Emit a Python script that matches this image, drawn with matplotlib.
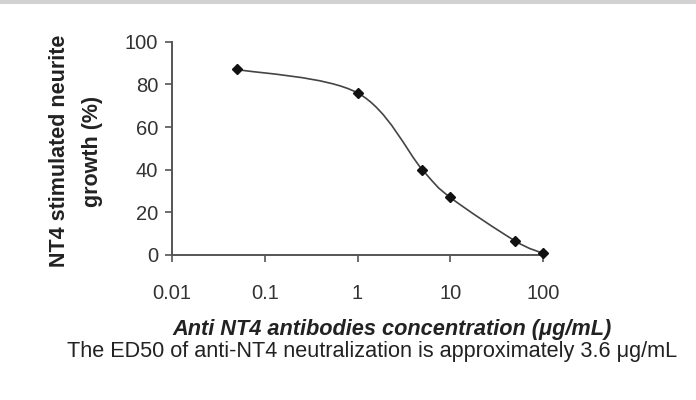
import matplotlib
matplotlib.use("Agg")
import matplotlib.pyplot as plt
from matplotlib.path import Path
from matplotlib.patches import PathPatch, Rectangle
import numpy as np

plt.rcParams['font.family'] = ['Liberation Sans', 'DejaVu Sans']

# data
conc = [0.05, 1, 5, 10, 50, 100]          # ug/mL
growth = [87, 76, 40, 27, 6.6, 0.8]       # %
xticks = [0.01, 0.1, 1, 10, 100]
xtick_labels = ["0.01", "0.1", "1", "10", "100"]
yticks = [0, 20, 40, 60, 80, 100]

ylabel = "NT4 stimulated neurite\ngrowth (%)"
xlabel = "Anti NT4 antibodies concentration (\u03bcg/mL)"
caption = "The ED50 of anti-NT4 neutralization is approximately 3.6 \u03bcg/mL"


def smooth_path(xs, ys):
    # Excel style smoothed line: cubic bezier segments through the points,
    # built in log-x space so the curve looks right on the log axis
    u = np.log10(xs)
    v = np.array(ys, dtype=float)
    n = len(u)
    verts = [(xs[0], ys[0])]
    codes = [Path.MOVETO]
    for i in range(n - 1):
        i0 = max(i - 1, 0)
        i3 = min(i + 2, n - 1)
        c1 = (u[i] + (u[i + 1] - u[i0]) / 6, v[i] + (v[i + 1] - v[i0]) / 6)
        c2 = (u[i + 1] - (u[i3] - u[i]) / 6, v[i + 1] - (v[i3] - v[i]) / 6)
        verts += [(10 ** c1[0], c1[1]), (10 ** c2[0], c2[1]), (xs[i + 1], ys[i + 1])]
        codes += [Path.CURVE4] * 3
    return Path(verts, codes)


fig = plt.figure(figsize=(6.96, 4.0), dpi=100)
ax = fig.add_axes([172 / 696, 1 - 255 / 400, (543 - 172) / 696, (255 - 41.7) / 400])

ax.set_xscale('log')
ax.set_xlim(0.01, 100)
ax.set_ylim(0, 100)

ax.add_patch(PathPatch(smooth_path(conc, growth), fill=False, edgecolor='#444444',
                       lw=1.2, transform=ax.transData, clip_on=False))
ax.plot(conc, growth, ls='none', marker='D', ms=5.5, color='#111111', clip_on=False, zorder=3)

ax.set_xticks(xticks)
ax.set_xticklabels(xtick_labels)
ax.minorticks_off()
ax.set_yticks(yticks)

for s in ['top', 'right']:
    ax.spines[s].set_visible(False)
for s in ['left', 'bottom']:
    ax.spines[s].set_color('#555555')
    ax.spines[s].set_linewidth(1.4)

ax.tick_params(axis='both', direction='out', length=5, width=1.2, color='#555555',
               labelsize=14.5, labelcolor='#333333')
ax.tick_params(axis='x', pad=16)
ax.tick_params(axis='y', pad=5)

fig.text(76 / 696, 1 - 151 / 400, ylabel, rotation=90, ha='center', va='center',
         fontsize=15.5, fontweight='bold', color='#222222', linespacing=1.8)
fig.text(392 / 696, 1 - 329 / 400, xlabel, ha='center', va='center',
         fontsize=15.7, fontweight='bold', fontstyle='italic', color='#222222')
fig.text(372 / 696, 1 - 351 / 400, caption, ha='center', va='center',
         fontsize=15.6, color='#222222')

# thin grey band along the top edge
fig.add_artist(Rectangle((0, 1 - 4 / 400), 1, 4 / 400, transform=fig.transFigure,
                         color='#d2d2d2', lw=0))

fig.savefig("out.png", dpi=100)
